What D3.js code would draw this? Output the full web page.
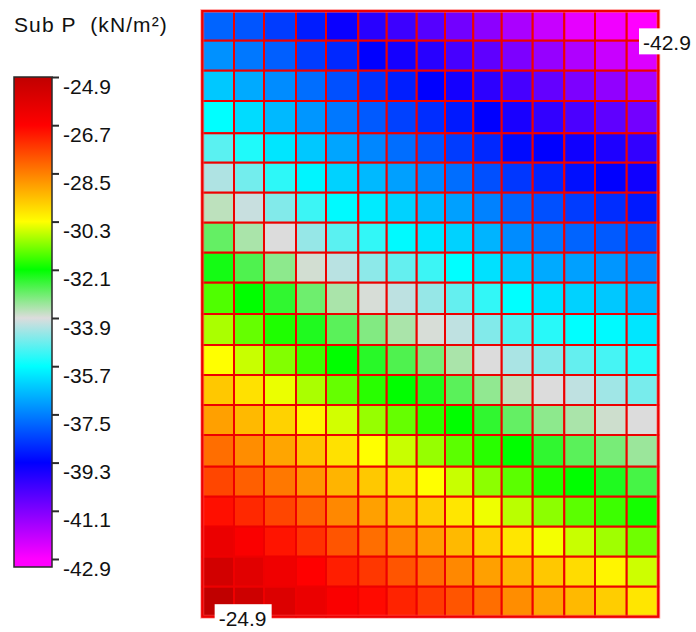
<!DOCTYPE html>
<html>
<head>
<meta charset="utf-8">
<script src="https://cdn.jsdelivr.net/npm/d3@7"></script>
<style>
  html, body { margin: 0; padding: 0; background: #ffffff; }
  svg { display: block; }
  text { font-family: "Liberation Sans", Arial, sans-serif; }
</style>
</head>
<body>
<svg id="chart" width="696" height="632"></svg>
<script>
// ---------- DATA ----------
const legendTitle = "Sub P  (kN/m\u00B2)";
const tickValues = [-24.9, -26.7, -28.5, -30.3, -32.1, -33.9, -35.7, -37.5, -39.3, -41.1, -42.9];
const colorStops = [-42.9, -41.1, -39.3, -37.5, -35.7, -33.9, -32.1, -30.3, -28.5, -26.7, -24.9];
// mesh node coordinates (m)
const xNodes = [0, 3.17, 6.17, 9.37, 12.37, 15.6, 18.44, 21.44, 24.27, 27.1, 29.94, 33.04, 36.2, 39.27, 42.44, 45.6];
const yNodes = [0, 2.97, 5.97, 9.0, 12.23, 15.17, 18.17, 21.17, 24.17, 27.17, 30.3, 33.4, 36.4, 39.4, 42.4, 45.57, 48.57, 51.57, 54.57, 57.57, 60.57];
// cell values (kN/m2), row 0 = top
const values = [
  [-37.90, -38.10, -38.46, -38.90, -39.44, -39.86, -40.14, -40.50, -40.90, -41.27, -41.70, -42.10, -42.55, -42.70, -42.90],
  [-37.26, -37.61, -37.96, -38.46, -38.74, -39.30, -39.58, -39.86, -40.28, -40.64, -41.06, -41.41, -41.77, -42.12, -42.40],
  [-36.48, -36.90, -37.33, -37.75, -38.18, -38.60, -38.88, -39.30, -39.58, -39.93, -40.28, -40.70, -41.06, -41.34, -41.70],
  [-35.70, -36.20, -36.69, -37.19, -37.61, -38.03, -38.39, -38.67, -38.95, -39.30, -39.65, -40.00, -40.35, -40.64, -40.92],
  [-34.96, -35.45, -36.05, -36.48, -36.98, -37.40, -37.75, -38.10, -38.46, -38.74, -39.16, -39.30, -39.51, -39.72, -40.00],
  [-34.27, -34.76, -35.33, -35.84, -36.34, -36.69, -37.05, -37.40, -37.75, -38.18, -38.53, -38.81, -39.09, -39.30, -39.51],
  [-33.65, -34.06, -34.64, -35.21, -35.77, -35.98, -36.34, -36.69, -37.05, -37.47, -37.90, -38.18, -38.46, -38.67, -38.95],
  [-32.92, -33.49, -33.90, -34.47, -34.96, -35.29, -35.77, -36.05, -36.34, -36.76, -37.33, -37.61, -37.90, -38.03, -38.25],
  [-32.26, -32.75, -33.25, -33.82, -34.19, -34.55, -34.88, -35.21, -35.70, -36.12, -36.48, -36.90, -37.05, -37.19, -37.47],
  [-31.54, -32.10, -32.49, -33.00, -33.49, -33.86, -34.15, -34.47, -34.88, -35.29, -35.70, -36.12, -36.34, -36.48, -36.76],
  [-30.90, -31.39, -31.89, -32.35, -32.84, -33.16, -33.49, -33.86, -34.14, -34.64, -35.05, -35.37, -35.70, -35.77, -36.05],
  [-30.30, -30.69, -31.18, -31.68, -32.10, -32.43, -32.75, -33.08, -33.49, -33.90, -34.31, -34.64, -34.88, -35.13, -35.37],
  [-29.52, -29.88, -30.44, -30.90, -31.39, -31.82, -32.10, -32.35, -32.84, -33.29, -33.65, -33.90, -34.14, -34.39, -34.72],
  [-28.96, -29.31, -29.66, -30.16, -30.62, -31.04, -31.39, -31.82, -32.10, -32.49, -32.92, -33.25, -33.49, -33.78, -33.90],
  [-28.25, -28.68, -29.03, -29.45, -29.88, -30.30, -30.69, -31.04, -31.46, -31.82, -32.10, -32.49, -32.84, -33.08, -33.37],
  [-27.69, -28.04, -28.39, -28.82, -29.24, -29.52, -29.81, -30.30, -30.69, -31.11, -31.46, -31.89, -32.10, -32.35, -32.67],
  [-26.91, -27.26, -27.69, -28.11, -28.61, -28.96, -29.31, -29.59, -29.95, -30.41, -30.79, -31.11, -31.46, -31.68, -31.96],
  [-26.13, -26.56, -26.98, -27.41, -27.90, -28.25, -28.61, -28.96, -29.31, -29.66, -29.95, -30.37, -30.69, -30.97, -31.32],
  [-25.41, -25.84, -26.27, -26.70, -27.12, -27.48, -27.90, -28.25, -28.61, -28.96, -29.24, -29.52, -29.81, -30.16, -30.65],
  [-24.90, -25.27, -25.70, -26.13, -26.56, -26.84, -27.19, -27.55, -27.90, -28.25, -28.68, -29.03, -29.31, -29.59, -29.95]
];

// ---------- STYLE ----------
const palette = ["#ff00ff", "#8000ff", "#0000ff", "#0080ff", "#00ffff", "#dcdcdc", "#00ff00", "#ffff00", "#ff8000", "#ff0000", "#c00000"];
const gridStroke = "#ee0000";
const textColor = "#111111";
const fontSize = 21;

const svg = d3.select("#chart");
const color = d3.scaleLinear().domain(colorStops).range(palette).interpolate(d3.interpolateRgb).clamp(true);
const fmt = v => v.toFixed(1);   // plain hyphen-minus like the reference

// ---------- GRID ----------
const x = d3.scaleLinear().domain([xNodes[0], xNodes[xNodes.length - 1]]).range([202.3, 658.3]);
const y = d3.scaleLinear().domain([yNodes[0], yNodes[yNodes.length - 1]]).range([11, 616.7]);

const cells = [];
values.forEach((row, r) => row.forEach((v, c) => cells.push({ r, c, v })));

const gridG = svg.append("g");
gridG.selectAll("rect.cell")
  .data(cells)
  .join("rect")
  .attr("class", "cell")
  .attr("x", d => x(xNodes[d.c]))
  .attr("y", d => y(yNodes[d.r]))
  .attr("width", d => x(xNodes[d.c + 1]) - x(xNodes[d.c]))
  .attr("height", d => y(yNodes[d.r + 1]) - y(yNodes[d.r]))
  .attr("fill", d => color(d.v))
  .attr("stroke", gridStroke)
  .attr("stroke-width", 2);

const outer = () => gridG.append("rect")
  .attr("x", x(xNodes[0]))
  .attr("y", y(yNodes[0]))
  .attr("width", x(xNodes[xNodes.length - 1]) - x(xNodes[0]))
  .attr("height", y(yNodes[yNodes.length - 1]) - y(yNodes[0]))
  .attr("fill", "none");
outer().attr("stroke", "#ff5555").attr("stroke-opacity", 0.5).attr("stroke-width", 4);
outer().attr("stroke", gridStroke).attr("stroke-width", 2);

// ---------- MIN / MAX LABELS ----------
const minCell = cells.reduce((a, b) => (b.v < a.v ? b : a));
const maxCell = cells.reduce((a, b) => (b.v > a.v ? b : a));
[minCell, maxCell].forEach(d => {
  const cx = (x(xNodes[d.c]) + x(xNodes[d.c + 1])) / 2;
  const cy = (y(yNodes[d.r]) + y(yNodes[d.r + 1])) / 2;
  const g = svg.append("g").attr("transform", `translate(${cx - 3.5},${cy + 2.5})`);
  g.append("rect").attr("width", 57).attr("height", 26).attr("fill", "#ffffff");
  g.append("text")
    .attr("x", 4).attr("y", 22)
    .attr("fill", textColor)
    .attr("font-size", fontSize)
    .text(fmt(d.v));
});

// ---------- COLOR BAR ----------
const barX = 14, barW = 38, barTop = 77, barH = 490;
const cb = d3.scaleLinear().domain([tickValues[0], tickValues[tickValues.length - 1]]).range([barTop, 559]);

const defs = svg.append("defs");
const grad = defs.append("linearGradient")
  .attr("id", "cbgrad")
  .attr("gradientUnits", "userSpaceOnUse")
  .attr("x1", 0).attr("x2", 0)
  .attr("y1", cb(tickValues[0])).attr("y2", cb(tickValues[tickValues.length - 1]));
colorStops.slice().reverse().forEach(v => {
  grad.append("stop")
    .attr("offset", (cb(v) - cb(tickValues[0])) / (cb(tickValues[tickValues.length - 1]) - cb(tickValues[0])))
    .attr("stop-color", color(v));
});

svg.append("rect")
  .attr("x", barX).attr("y", barTop)
  .attr("width", barW).attr("height", barH)
  .attr("fill", "url(#cbgrad)")
  .attr("stroke", "#2a2a2a")
  .attr("stroke-width", 1.5);

const axis = d3.axisRight(cb)
  .tickValues(tickValues)
  .tickFormat(fmt)
  .tickSize(7)
  .tickPadding(4);

const axG = svg.append("g")
  .attr("transform", `translate(${barX + barW},0)`)
  .call(axis);
axG.select(".domain").remove();
axG.selectAll(".tick line").attr("stroke", "#2a2a2a").attr("stroke-width", 2);
axG.selectAll(".tick text")
  .attr("fill", textColor)
  .attr("font-size", fontSize)
  .attr("font-family", "Liberation Sans, Arial, sans-serif")
  .attr("dy", 0)
  .attr("y", 16);

// ---------- TITLE ----------
svg.append("text")
  .attr("x", 14).attr("y", 32)
  .attr("fill", textColor)
  .attr("font-size", fontSize)
  .attr("letter-spacing", 1.1)
  .style("white-space", "pre")
  .text(legendTitle);
</script>
</body>
</html>
